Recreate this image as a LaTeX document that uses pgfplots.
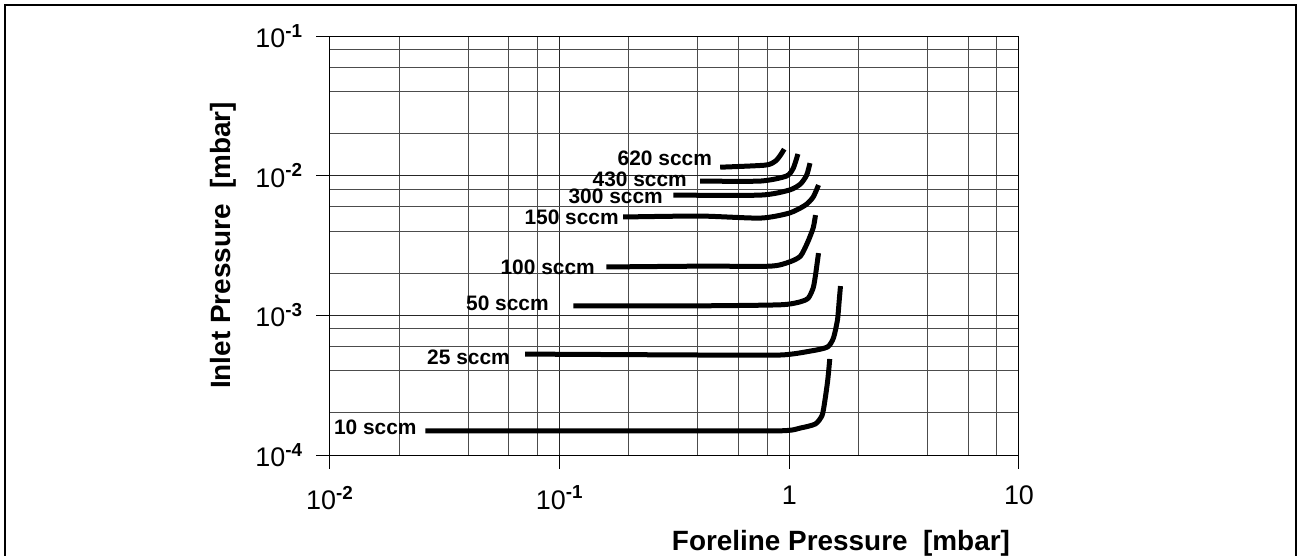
\documentclass[border=0pt]{standalone}
\usepackage{fontspec}
\setmainfont{Liberation Sans}
\usepackage{pgfplots}
\pgfplotsset{compat=1.18}
\tikzset{curve/.style={line width=2.5bp, black, solid, mark=none, smooth, tension=0.4},
  clabel/.style={anchor=east, inner sep=0pt, font=\fontsize{10.5}{12}\selectfont\bfseries}}
\begin{document}
\begin{tikzpicture}
\useasboundingbox (0,0) rectangle (648.5bp,278bp);
\draw[line width=1bp] (2.5bp,-5bp) -- (2.5bp,275.5bp) -- (647.75bp,275.5bp) -- (647.75bp,-5bp);
\begin{axis}[
  at={(165bp,50.5bp)}, anchor=south west,
  scale only axis, width=344.5bp, height=209.5bp,
  xmode=log, ymode=log,
  xmin=0.01, xmax=10, ymin=1e-4, ymax=1e-1,
  axis line style={line width=0.5bp, black},
  xtick={0.01,0.1,1,10},
  xticklabels={10\textsuperscript{\textbf{-2}},10\textsuperscript{\textbf{-1}},1,10},
  ytick={1e-4,1e-3,1e-2,1e-1},
  yticklabels={10\textsuperscript{\textbf{-4}},10\textsuperscript{\textbf{-3}},10\textsuperscript{\textbf{-2}},10\textsuperscript{\textbf{-1}}},
  minor xtick={0.02,0.04,0.06,0.08,0.2,0.4,0.6,0.8,2,4,6,8},
  minor ytick={2e-4,4e-4,6e-4,8e-4,2e-3,4e-3,6e-3,8e-3,2e-2,4e-2,6e-2,8e-2},
  grid=both,
  major grid style={line width=0.5bp, black!85},
  minor grid style={line width=0.5bp, black!70},
  tick align=outside, tick pos=left,
  major tick length=7bp, minor tick length=0pt,
  tick style={line width=0.5bp, black},
  tick label style={font=\fontsize{13.5}{15}\selectfont},
  xticklabel style={yshift=-5bp},
  yticklabel style={xshift=-3bp},
  xlabel={Foreline Pressure\ \ [mbar]},
  ylabel={Inlet Pressure\ \ [mbar]},
  label style={font=\fontsize{14}{16}\selectfont\bfseries},
  xlabel style={at={(axis description cs:1,0)}, anchor=north east, yshift=-34bp, xshift=-1bp},
  ylabel style={at={(axis description cs:-0.155,0.5)}, anchor=center},
  clip=false,
]
% 10 sccm
\addplot[curve] coordinates {(0.026,1.49e-4) (0.3,1.49e-4) (0.914,1.49e-4) (1.117,1.56e-4) (1.30,1.67e-4) (1.39,1.93e-4) (1.43,2.48e-4) (1.47,3.44e-4) (1.50,4.87e-4)};
% 25 sccm
\addplot[curve] coordinates {(0.0708,5.28e-4) (0.409,5.2e-4) (0.914,5.2e-4) (1.236,5.55e-4) (1.465,5.93e-4) (1.556,6.88e-4) (1.62,9.25e-4) (1.65,1.29e-3) (1.67,1.62e-3)};
% 50 sccm
\addplot[curve] coordinates {(0.1146,1.17e-3) (0.409,1.17e-3) (0.914,1.19e-3) (1.117,1.25e-3) (1.21,1.33e-3) (1.27,1.57e-3) (1.30,1.94e-3) (1.34,2.79e-3)};
% 100 sccm
\addplot[curve] coordinates {(0.1596,2.22e-3) (0.409,2.25e-3) (0.826,2.25e-3) (1.0,2.41e-3) (1.117,2.65e-3) (1.197,3.29e-3) (1.27,4.22e-3) (1.30,5.22e-3)};
% 150 sccm
\addplot[curve] coordinates {(0.189,5.06e-3) (0.409,5.14e-3) (0.748,4.97e-3) (1.0,5.40e-3) (1.175,6.16e-3) (1.27,7.03e-3) (1.34,8.57e-3)};
% 300 sccm
\addplot[curve] coordinates {(0.313,7.26e-3) (0.748,7.26e-3) (1.0,7.89e-3) (1.117,8.71e-3) (1.19,1.01e-2) (1.23,1.23e-2)};
% 430 sccm
\addplot[curve] coordinates {(0.409,9.15e-3) (0.748,9.15e-3) (0.97,9.93e-3) (1.04,1.13e-2) (1.09,1.43e-2)};
% 620 sccm
\addplot[curve] coordinates {(0.50,1.15e-2) (0.786,1.19e-2) (0.869,1.27e-2) (0.914,1.40e-2) (0.95,1.55e-2)};
\node[clabel] at (axis cs:0.462,0.01337) {620 sccm};
\node[clabel] at (axis cs:0.3594,0.00946) {430 sccm};
\node[clabel] at (axis cs:0.2825,0.00715) {300 sccm};
\node[clabel] at (axis cs:0.1816,0.00505) {150 sccm};
\node[clabel] at (axis cs:0.1428,0.00222) {100 sccm};
\node[clabel] at (axis cs:0.0900,0.001224) {50 sccm};
\node[clabel] at (axis cs:0.0609,5.03e-4) {25 sccm};
\node[clabel] at (axis cs:0.02393,1.586e-4) {10 sccm};
\end{axis}
\end{tikzpicture}
\end{document}
